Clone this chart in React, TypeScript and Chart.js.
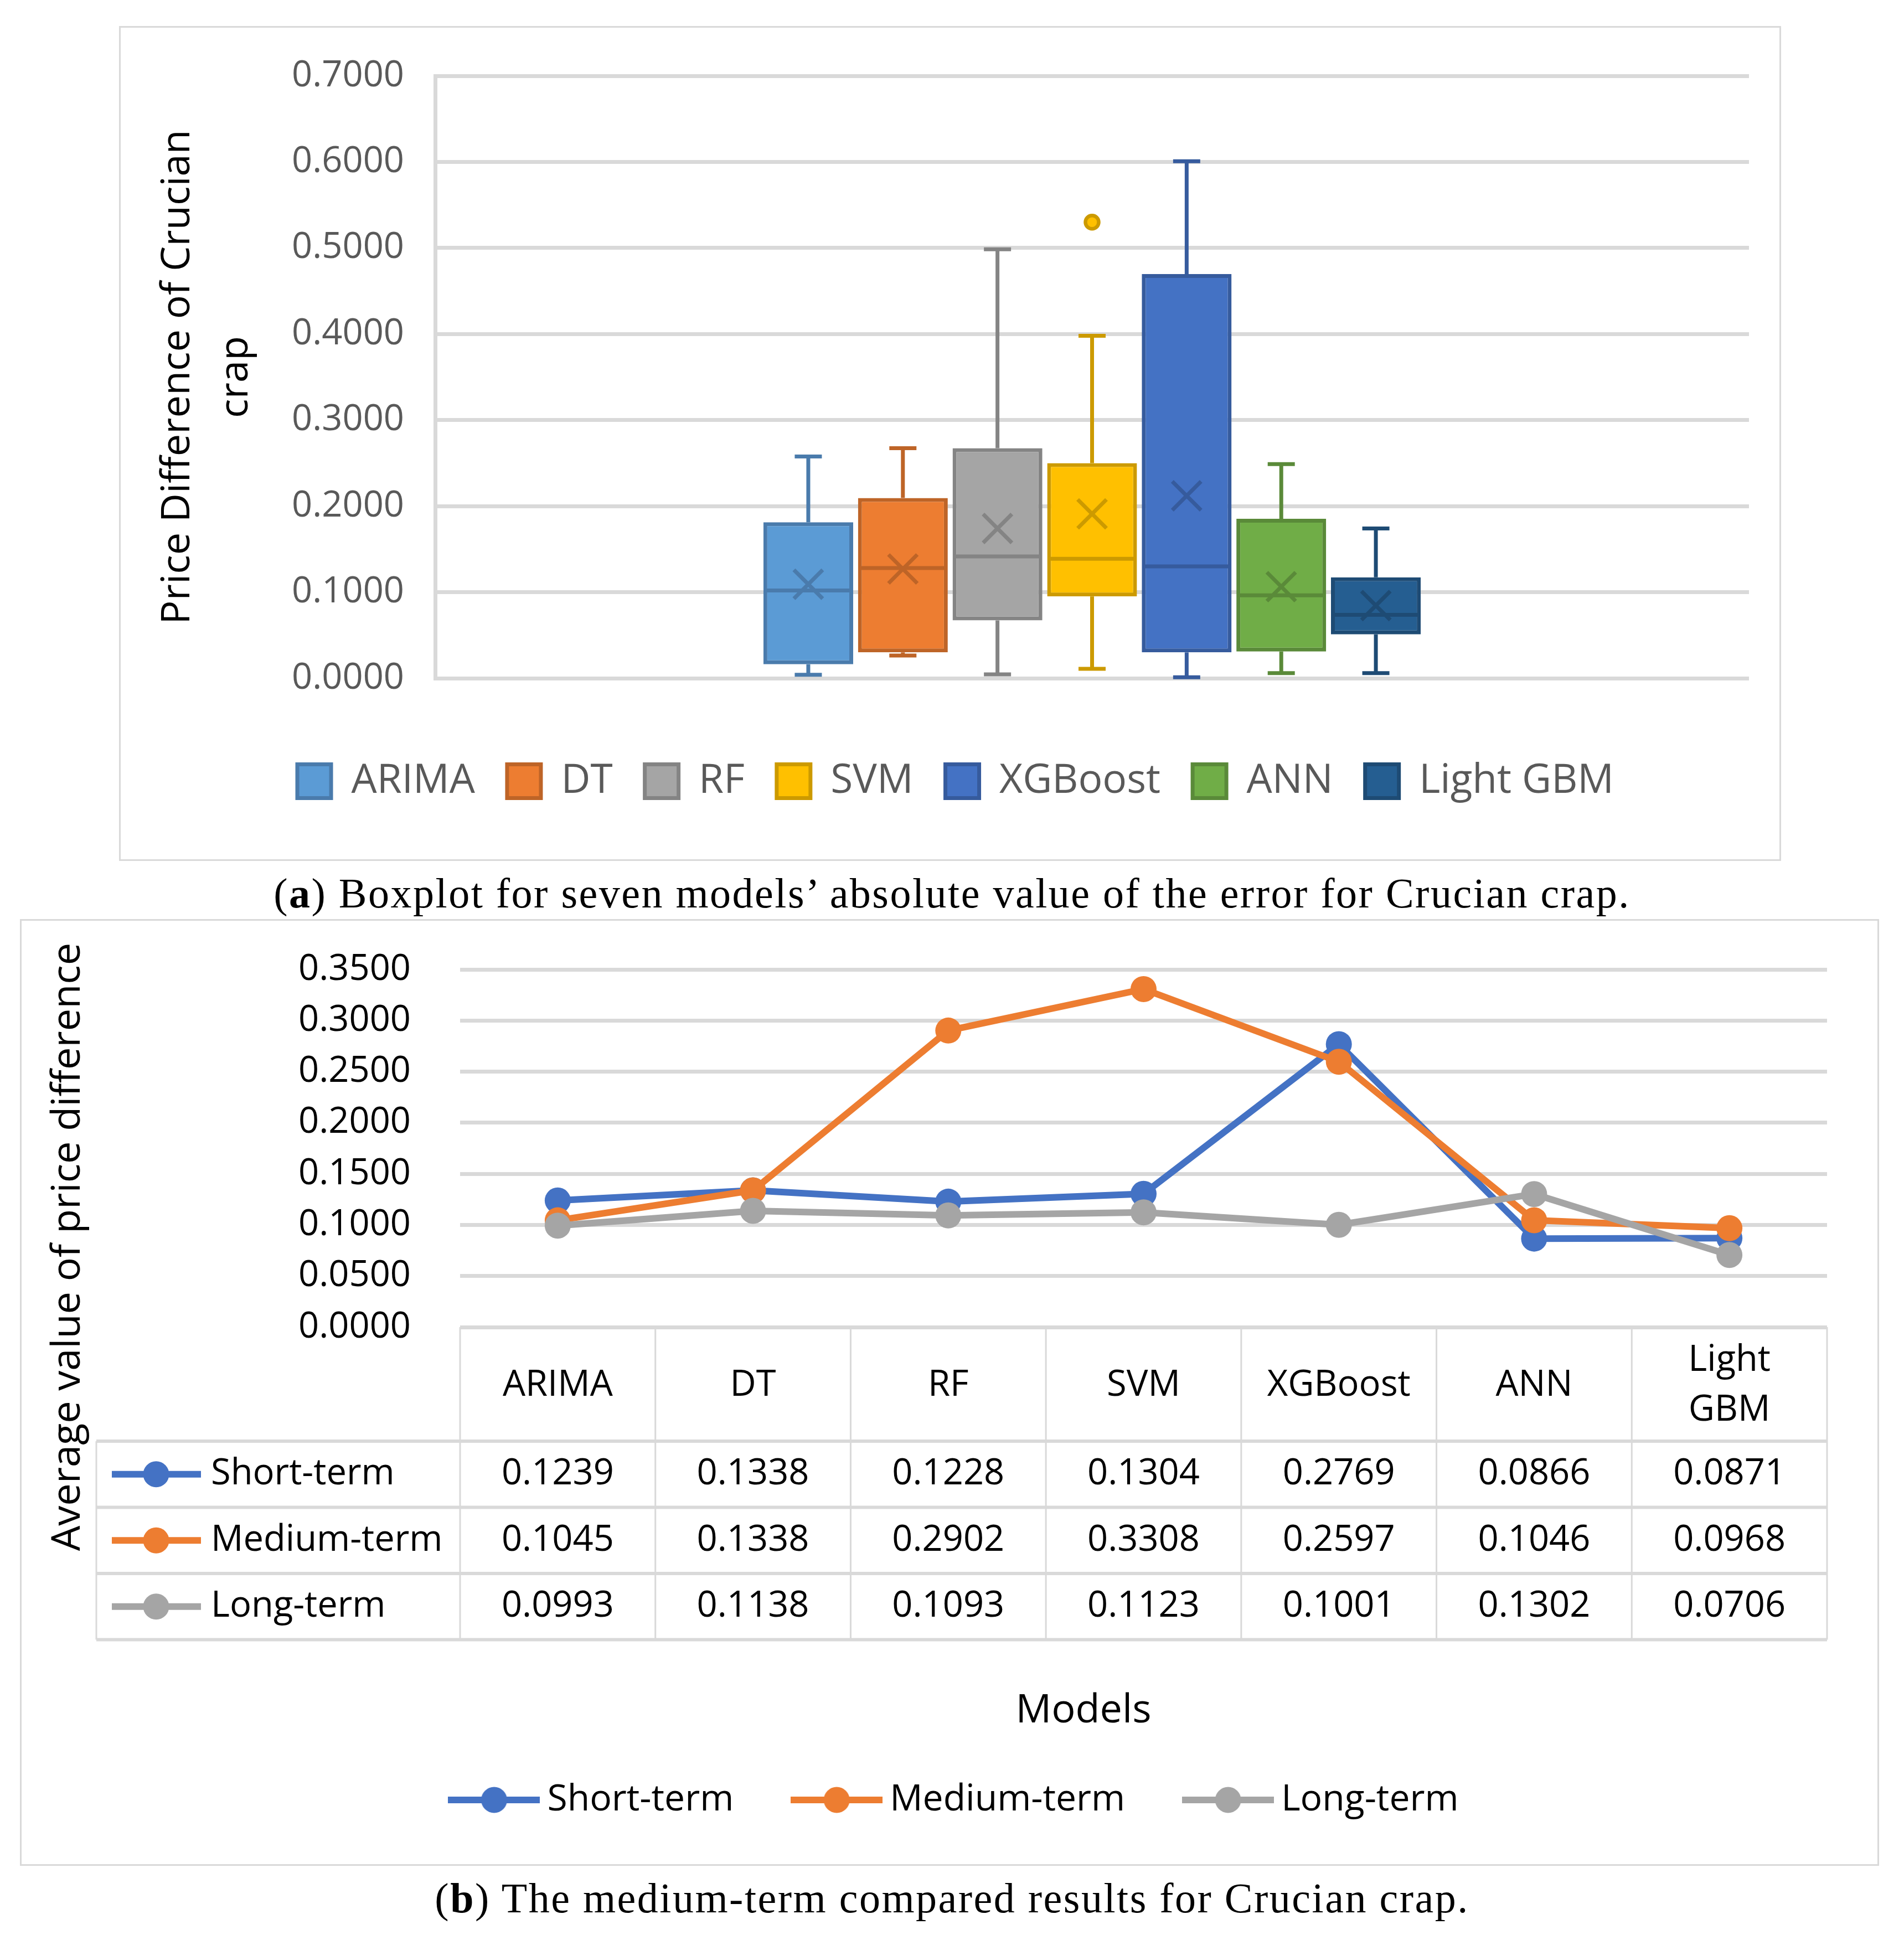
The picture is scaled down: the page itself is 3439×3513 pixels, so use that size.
import React, { useEffect, useRef } from 'react';
import { Chart, registerables } from 'chart.js';

Chart.register(...registerables);

const FONT = '"Open Sans", "DejaVu Sans", sans-serif';
const SERIF = '"Liberation Serif", "DejaVu Serif", serif';

// ---------- (a) box plot data ----------
const models = ['ARIMA', 'DT', 'RF', 'SVM', 'XGBoost', 'ANN', 'Light GBM'];
const boxMin = [0.004, 0.0263, 0.0045, 0.0109, 0.0012, 0.006, 0.006];
const boxQ1 = [0.0162, 0.03, 0.0672, 0.0951, 0.03, 0.0311, 0.051];
const boxMedian = [0.102, 0.128, 0.1416, 0.1388, 0.13, 0.0963, 0.0736];
const boxQ3 = [0.1812, 0.2095, 0.2674, 0.25, 0.4697, 0.1853, 0.1173];
const boxMax = [0.2577, 0.2674, 0.4984, 0.398, 0.6007, 0.2488, 0.174];
const boxMean = [0.1092, 0.127, 0.174, 0.191, 0.212, 0.1064, 0.0845];
const boxOutliers: number[][] = [[], [], [], [0.53], [], [], []];
const boxAxisMax = 0.7;
const boxAxisStep = 0.1;
const boxFill = ['#5B9BD5', '#ED7D31', '#A5A5A5', '#FFC000', '#4472C4', '#70AD47', '#255E91'];
const boxEdge = ['#4A7BAC', '#BE6427', '#848484', '#CC9A00', '#365B9D', '#5A8A39', '#1E4B74'];

// ---------- (b) line chart data ----------
const seriesNames = ['Short-term', 'Medium-term', 'Long-term'];
const shortTerm = [0.1239, 0.1338, 0.1228, 0.1304, 0.2769, 0.0866, 0.0871];
const mediumTerm = [0.1045, 0.1338, 0.2902, 0.3308, 0.2597, 0.1046, 0.0968];
const longTerm = [0.0993, 0.1138, 0.1093, 0.1123, 0.1001, 0.1302, 0.0706];
const seriesColors = ['#4472C4', '#ED7D31', '#A5A5A5'];
const lineAxisMax = 0.35;
const lineAxisStep = 0.05;

const boxPlugin = {
  id: 'boxExtras',
  afterDatasetsDraw(chart: any) {
    const ctx = chart.ctx;
    const y = chart.scales.y;
    chart.data.datasets.forEach((_ds: any, i: number) => {
      const bar = chart.getDatasetMeta(i).data[0];
      if (!bar) return;
      const x = bar.x;
      const w = bar.width;
      ctx.save();
      ctx.strokeStyle = boxEdge[i];
      ctx.lineWidth = 7;
      const cap = 24.5;
      const seg = (x1: number, y1: number, x2: number, y2: number) => {
        ctx.beginPath();
        ctx.moveTo(x1, y1);
        ctx.lineTo(x2, y2);
        ctx.stroke();
      };
      // whiskers
      seg(x, y.getPixelForValue(boxQ3[i]), x, y.getPixelForValue(boxMax[i]));
      seg(x - cap, y.getPixelForValue(boxMax[i]), x + cap, y.getPixelForValue(boxMax[i]));
      seg(x, y.getPixelForValue(boxQ1[i]), x, y.getPixelForValue(boxMin[i]));
      seg(x - cap, y.getPixelForValue(boxMin[i]), x + cap, y.getPixelForValue(boxMin[i]));
      // median
      const ym = y.getPixelForValue(boxMedian[i]);
      seg(x - w / 2 + 3, ym, x + w / 2 - 3, ym);
      // mean marker (X)
      const yMean = y.getPixelForValue(boxMean[i]);
      const s = 26;
      ctx.lineWidth = 7;
      seg(x - s, yMean - s, x + s, yMean + s);
      seg(x - s, yMean + s, x + s, yMean - s);
      // outliers
      boxOutliers[i].forEach((v) => {
        ctx.beginPath();
        ctx.arc(x, y.getPixelForValue(v), 12, 0, Math.PI * 2);
        ctx.fillStyle = boxFill[i];
        ctx.fill();
        ctx.lineWidth = 6.5;
        ctx.stroke();
      });
      ctx.restore();
    });
  },
};

function BoxChart() {
  const ref = useRef<HTMLCanvasElement>(null);
  useEffect(() => {
    const chart = new Chart(ref.current as HTMLCanvasElement, {
      type: 'bar',
      data: {
        labels: [''],
        datasets: models.map((m, i) => ({
          label: m,
          data: [[boxQ1[i], boxQ3[i]]] as any,
          backgroundColor: boxFill[i],
          borderColor: boxEdge[i],
          borderWidth: 7,
          borderSkipped: false,
          barPercentage: 0.949,
          categoryPercentage: 0.504,
        })),
      },
      options: {
        responsive: false,
        animation: false,
        devicePixelRatio: 1,
        layout: { padding: { left: 78, right: 58, top: 90, bottom: 97.5 } },
        scales: {
          x: {
            display: true,
            grid: { display: false },
            border: { display: false },
            ticks: { display: false },
            afterFit: (s: any) => {
              s.height = 91.5;
            },
          },
          y: {
            min: 0,
            max: boxAxisMax,
            grid: { color: '#D9D9D9', lineWidth: 7, drawTicks: false },
            border: { display: true, color: '#D9D9D9', width: 7 },
            ticks: {
              stepSize: boxAxisStep,
              padding: 56,
              color: '#595959',
              font: { family: FONT, size: 65, lineHeight: 0.05 },
              callback: (v: any) => Number(v).toFixed(4),
            },
            title: {
              display: true,
              text: ['Price Difference of Crucian', 'crap'],
              color: '#000',
              font: { family: FONT, size: 72, lineHeight: 1.46 },
              padding: { top: -24, bottom: 0 },
            },
            afterFit: (s: any) => {
              s.width = 493;
            },
          },
        },
        plugins: {
          tooltip: { enabled: false },
          legend: {
            position: 'bottom',
            labels: {
              boxWidth: 61,
              boxHeight: 61,
              padding: 58,
              color: '#595959',
              font: { family: FONT, size: 73 },
            },
          },
        },
      } as any,
      plugins: [boxPlugin],
    });
    return () => chart.destroy();
  }, []);
  return (
    <canvas
      ref={ref}
      width={3002}
      height={1508}
      style={{ position: 'absolute', left: 215, top: 47, width: 3002, height: 1508 }}
    />
  );
}

function makeKey(color: string) {
  const c = document.createElement('canvas');
  c.width = 166;
  c.height = 50;
  const g = c.getContext('2d') as CanvasRenderingContext2D;
  g.strokeStyle = color;
  g.lineWidth = 12;
  g.beginPath();
  g.moveTo(0, 25);
  g.lineTo(166, 25);
  g.stroke();
  g.fillStyle = color;
  g.beginPath();
  g.arc(83, 25, 23.5, 0, Math.PI * 2);
  g.fill();
  return c;
}

const tablePlugin = {
  id: 'dataTable',
  afterDraw(chart: any) {
    const ctx = chart.ctx;
    const xs = chart.scales.x;
    const n = models.length;
    const x0 = xs.getPixelForValue(0);
    const step = xs.getPixelForValue(1) - x0;
    const edges = Array.from({ length: n + 1 }, (_, k) => x0 - step / 2 + k * step);
    const top = xs.top;
    const headBottom = top + 206;
    const rowH = 119.5;
    const left = 138;
    const rows = [shortTerm, mediumTerm, longTerm];
    const bottom = headBottom + rowH * rows.length;
    const seg = (x1: number, y1: number, x2: number, y2: number) => {
      ctx.beginPath();
      ctx.moveTo(x1, y1);
      ctx.lineTo(x2, y2);
      ctx.stroke();
    };
    ctx.save();
    ctx.strokeStyle = '#D9D9D9';
    ctx.lineWidth = 6;
    seg(edges[0], top, edges[n], top);
    for (let r = 0; r <= rows.length; r++) {
      const yy = headBottom + r * rowH;
      seg(left, yy, edges[n], yy);
    }
    ctx.lineWidth = 3;
    edges.forEach((e) => seg(e, top, e, bottom));
    seg(left, headBottom, left, bottom);

    ctx.font = `65px ${FONT}`;
    ctx.textBaseline = 'middle';
    rows.forEach((vals, r) => {
      const cy = headBottom + r * rowH + rowH / 2;
      ctx.fillStyle = '#000';
      ctx.textAlign = 'center';
      vals.forEach((v, i) => ctx.fillText(v.toFixed(4), xs.getPixelForValue(i), cy));
      ctx.strokeStyle = seriesColors[r];
      ctx.lineWidth = 12;
      seg(left + 28, cy, left + 189, cy);
      ctx.fillStyle = seriesColors[r];
      ctx.beginPath();
      ctx.arc(left + 108, cy, 23.5, 0, Math.PI * 2);
      ctx.fill();
      ctx.fillStyle = '#000';
      ctx.textAlign = 'left';
      ctx.fillText(seriesNames[r], left + 207, cy);
    });

    ctx.font = `72px ${FONT}`;
    ctx.fillStyle = '#000';
    ctx.textAlign = 'center';
    ctx.fillText('Models', 1921, 1430);

    ctx.translate(87, 592);
    ctx.rotate(-Math.PI / 2);
    ctx.fillText('Average value of price difference', 0, 0);
    ctx.restore();
  },
};

function LineChart() {
  const ref = useRef<HTMLCanvasElement>(null);
  useEffect(() => {
    const keys = seriesColors.map(makeKey);
    const seriesData = [shortTerm, mediumTerm, longTerm];
    const chart = new Chart(ref.current as HTMLCanvasElement, {
      type: 'line',
      data: {
        labels: models.map((m) => (m === 'Light GBM' ? m.split(' ') : m)) as any,
        datasets: seriesNames.map((name, i) => ({
          label: name,
          data: seriesData[i],
          borderColor: seriesColors[i],
          backgroundColor: seriesColors[i],
          borderWidth: 12,
          pointRadius: 23.5,
          pointBorderWidth: 0,
          pointBackgroundColor: seriesColors[i],
          pointBorderColor: seriesColors[i],
          fill: false,
          tension: 0,
          order: 3 - i,
        })),
      },
      options: {
        responsive: false,
        animation: false,
        devicePixelRatio: 1,
        layout: { padding: { left: 128, right: 94, top: 91, bottom: 76 } },
        scales: {
          x: {
            offset: true,
            grid: { display: false },
            border: { display: false },
            ticks: {
              maxRotation: 0,
              autoSkip: false,
              padding: 52,
              crossAlign: 'center',
              color: '#000',
              font: { family: FONT, size: 65, lineHeight: 1.385 },
            },
            afterFit: (s: any) => {
              s.height = 698;
            },
          },
          y: {
            min: 0,
            max: lineAxisMax,
            grid: { color: '#D9D9D9', lineWidth: 7, drawTicks: false },
            border: { display: false },
            ticks: {
              stepSize: lineAxisStep,
              padding: 89,
              color: '#000',
              font: { family: FONT, size: 65, lineHeight: 0.03 },
              callback: (v: any) => Number(v).toFixed(4),
            },
            afterFit: (s: any) => {
              s.width = 667;
            },
          },
        },
        plugins: {
          tooltip: { enabled: false },
          legend: {
            position: 'bottom',
            labels: {
              usePointStyle: true,
              pointStyleWidth: 126,
              padding: 123,
              color: '#000',
              font: { family: FONT, size: 66 },
              generateLabels: (c: any) =>
                c.data.datasets.map((ds: any, i: number) => ({
                  text: ds.label,
                  datasetIndex: i,
                  pointStyle: keys[i],
                  fillStyle: seriesColors[i],
                  strokeStyle: seriesColors[i],
                  lineWidth: 0,
                  hidden: false,
                  fontColor: '#000',
                })),
            },
          },
        },
      } as any,
      plugins: [tablePlugin],
    });
    return () => chart.destroy();
  }, []);
  return (
    <canvas
      ref={ref}
      width={3358}
      height={1710}
      style={{ position: 'absolute', left: 36, top: 1660, width: 3358, height: 1710 }}
    />
  );
}

const captionStyle: React.CSSProperties = {
  position: 'absolute',
  left: 0,
  width: 3439,
  textAlign: 'center',
  fontFamily: SERIF,
  fontSize: 76,
  lineHeight: '76px',
  letterSpacing: 2.5,
  color: '#000',
  whiteSpace: 'nowrap',
};

export default function App() {
  return (
    <div
      style={{
        position: 'absolute',
        left: 0,
        top: 0,
        width: 3439,
        height: 3513,
        background: '#fff',
        overflow: 'hidden',
      }}
    >
      <div
        style={{
          position: 'absolute',
          left: 215,
          top: 47,
          width: 3002,
          height: 1508,
          border: '3px solid #D9D9D9',
          boxSizing: 'border-box',
        }}
      />
      <BoxChart />
      <div style={{ ...captionStyle, top: 1613 - 38 }}>
        (<b>a</b>) Boxplot for seven models’ absolute value of the error for Crucian crap.
      </div>
      <div
        style={{
          position: 'absolute',
          left: 36,
          top: 1660,
          width: 3358,
          height: 1710,
          border: '3px solid #D9D9D9',
          boxSizing: 'border-box',
        }}
      />
      <LineChart />
      <div style={{ ...captionStyle, top: 3428 - 38 }}>
        (<b>b</b>) The medium-term compared results for Crucian crap.
      </div>
    </div>
  );
}
